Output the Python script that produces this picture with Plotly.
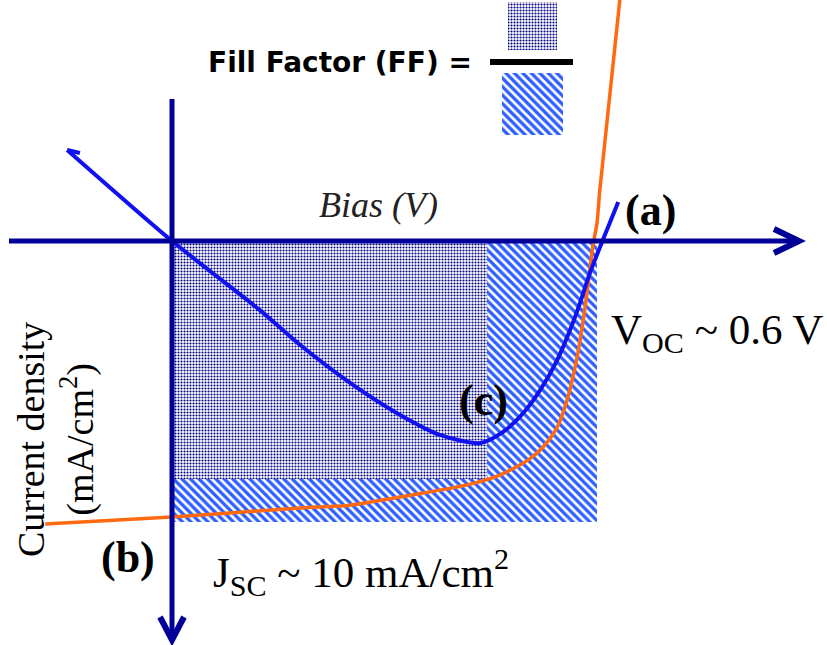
import plotly.graph_objects as go

# ---------------- data (physical units: V, mA/cm^2) ----------------
voc = 0.6          # open-circuit voltage (V)
jsc = -10.0        # short-circuit current density (mA/cm^2)
vmp = 0.445        # max-power-point voltage (V)
jmp = -8.47        # max-power-point current density (mA/cm^2)

# (b) illuminated J-V curve (orange)
orange_v = [-0.179, 0.0, 0.181, 0.251, 0.322, 0.4165, 0.463, 0.503, 0.524,
            0.544, 0.559, 0.572, 0.580, 0.587, 0.594, 0.600, 0.604, 0.634]
orange_j = [-10.07, -9.82, -9.50, -9.40, -9.11, -8.68, -8.33, -7.79, -7.33,
            -6.62, -5.55, -4.13, -2.92, -1.64, -0.21, 0.64, 1.81, 9.0]

# (c) curve (blue)
blue_v = [-0.148, 0.0, 0.124, 0.181, 0.2555, 0.322, 0.378, 0.435, 0.467,
          0.496, 0.520, 0.544, 0.562, 0.576, 0.590, 0.610, 0.630]
blue_j = [3.24, 0.0, -2.46, -3.70, -5.12, -6.19, -6.90, -7.19, -6.80,
          -6.12, -5.30, -4.23, -3.17, -2.21, -1.14, 0.14, 1.39]
hook_v = [-0.148, -0.130]
hook_j = [3.24, 3.13]

# ---------------- layout helpers (pixel -> data) ----------------
W, H = 827, 645
X0, SX = 172.0, 708.3      # origin px, px per V
Y0, SY = 241.0, 28.1       # origin px, px per mA/cm^2


def vx(px):
    return (px - X0) / SX


def jy(py):
    return (Y0 - py) / SY


AXC = "#000099"
DOTS = dict(shape=".", fgcolor="#000080", bgcolor="white", fgopacity=1,
            size=3, solidity=0.4)
HATCH = dict(shape="\\", fgcolor="#2f5fff", bgcolor="white", fgopacity=1,
             size=6, solidity=0.55)

fig = go.Figure()


def rect(xa, xb, ya, yb, pattern):
    fig.add_trace(go.Scatter(
        x=[xa, xb, xb, xa, xa], y=[ya, ya, yb, yb, ya], mode="lines",
        line=dict(width=0), fill="toself", fillcolor="white",
        fillpattern=pattern, hoverinfo="skip", showlegend=False))


# Voc x Jsc rectangle (hatched) and max-power rectangle (dotted)
rect(0, voc, 0, jsc, HATCH)
rect(0, vmp, 0, jmp, DOTS)
# FF legend swatches
rect(vx(508), vx(557), jy(2), jy(50), DOTS)
rect(vx(502), vx(563), jy(73), jy(135), HATCH)

# curves
fig.add_trace(go.Scatter(x=orange_v, y=orange_j, mode="lines",
                         line=dict(color="#ff6a10", width=3.5, shape="spline",
                                   smoothing=0.7),
                         hoverinfo="skip", showlegend=False))
fig.add_trace(go.Scatter(x=blue_v, y=blue_j, mode="lines",
                         line=dict(color="#1010f0", width=4, shape="spline",
                                   smoothing=0.7),
                         hoverinfo="skip", showlegend=False))
fig.add_trace(go.Scatter(x=hook_v, y=hook_j, mode="lines",
                         line=dict(color="#1010f0", width=4),
                         hoverinfo="skip", showlegend=False))

shapes = []
# horizontal axis + chevron
shapes.append(dict(type="line", xref="x", yref="y", x0=vx(9), x1=vx(797),
                   y0=0, y1=0, line=dict(color=AXC, width=5)))
shapes.append(dict(type="path", xref="x", yref="y",
                   path=f"M {vx(774)},{jy(229)} L {vx(799)},{jy(241)} L {vx(774)},{jy(253)}",
                   line=dict(color=AXC, width=6)))
# vertical axis + chevron
shapes.append(dict(type="line", xref="x", yref="y", x0=0, x1=0,
                   y0=jy(99), y1=jy(638), line=dict(color=AXC, width=5)))
shapes.append(dict(type="path", xref="x", yref="y",
                   path=f"M {vx(160)},{jy(617)} L {vx(172)},{jy(640)} L {vx(184)},{jy(617)}",
                   line=dict(color=AXC, width=6)))
# FF fraction bar
shapes.append(dict(type="line", xref="x", yref="y", x0=vx(490), x1=vx(573),
                   y0=jy(62), y1=jy(62), line=dict(color="black", width=6)))

SERIF = "Liberation Serif"
ann = []


def txt(px, py, s, size, bold=False, italic=False, color="black",
        family=SERIF, angle=0):
    t = s
    if bold:
        t = f"<b>{t}</b>"
    if italic:
        t = f"<i>{t}</i>"
    ann.append(dict(x=vx(px), y=jy(py), xref="x", yref="y", text=t,
                    showarrow=False, textangle=angle, xanchor="center",
                    yanchor="middle",
                    font=dict(size=size, color=color, family=family)))


txt(340, 62, "Fill Factor (FF) =", 28, bold=True, family="DejaVu Sans")
txt(378, 205, "Bias (V)", 36, italic=True, color="#222222")
txt(650, 210, "(a)", 44, bold=True)
txt(717, 333, "V<sub>OC</sub> ~ 0.6 V", 43)
txt(483, 400, "(c)", 44, bold=True)
txt(128, 557, "(b)", 44, bold=True)
txt(361, 572, "J<sub>SC</sub> ~ 10 mA/cm<sup>2</sup>", 43)
txt(56, 440, "Current density<br>(mA/cm<sup>2</sup>)", 38, angle=-90)

fig.update_layout(
    width=W, height=H, margin=dict(l=0, r=0, t=0, b=0),
    paper_bgcolor="white", plot_bgcolor="white",
    xaxis=dict(range=[vx(0), vx(W)], visible=False, fixedrange=True),
    yaxis=dict(range=[jy(H), jy(0)], visible=False, fixedrange=True),
    shapes=shapes, annotations=ann, showlegend=False)

fig.write_html("out.html")
